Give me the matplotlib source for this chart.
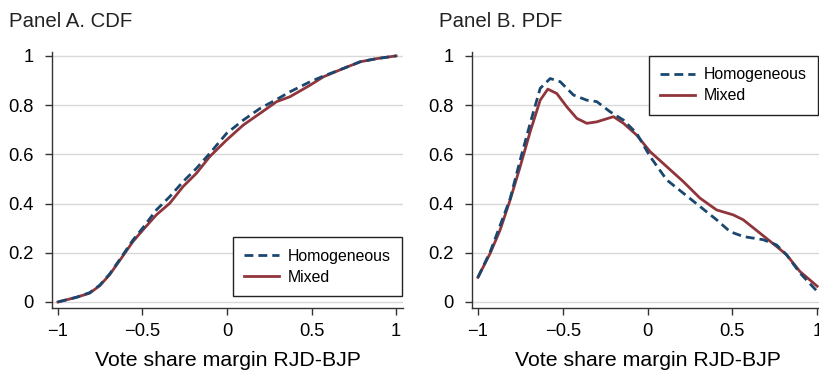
import numpy as np
import matplotlib.pyplot as plt

plt.rcParams['font.family'] = ['Liberation Sans', 'DejaVu Sans']

# Panel A: CDF of vote share margin
cdf_x_mixed = [-1.0, -0.891, -0.812, -0.753, -0.694, -0.625, -0.556, -0.497, -0.418,
               -0.339, -0.260, -0.181, -0.102, -0.003, 0.096, 0.194, 0.293, 0.372,
               0.491, 0.570, 0.688, 0.787, 0.886, 1.0]
cdf_y_mixed = [0.0, 0.019, 0.036, 0.066, 0.111, 0.178, 0.246, 0.293, 0.354,
               0.401, 0.469, 0.523, 0.591, 0.658, 0.719, 0.766, 0.814, 0.834,
               0.881, 0.915, 0.949, 0.976, 0.989, 1.0]
cdf_x_homog = [-1.0, -0.891, -0.812, -0.753, -0.694, -0.625, -0.556, -0.497, -0.418,
               -0.339, -0.260, -0.181, -0.102, -0.003, 0.096, 0.194, 0.293, 0.372,
               0.491, 0.570, 0.688, 0.787, 0.886, 1.0]
cdf_y_homog = [0.0, 0.019, 0.038, 0.068, 0.114, 0.182, 0.252, 0.302, 0.374,
               0.428, 0.489, 0.543, 0.604, 0.685, 0.739, 0.786, 0.823, 0.854,
               0.895, 0.918, 0.949, 0.976, 0.989, 1.0]

# Panel B: PDF (kernel density)
pdf_x_mixed = [-1.0, -0.927, -0.869, -0.810, -0.751, -0.692, -0.633, -0.588, -0.535,
               -0.476, -0.417, -0.358, -0.299, -0.201, -0.142, -0.064, 0.015, 0.113,
               0.211, 0.309, 0.407, 0.505, 0.564, 0.662, 0.760, 0.819, 0.898, 1.0]
pdf_y_mixed = [0.100, 0.199, 0.293, 0.415, 0.550, 0.692, 0.820, 0.865, 0.847,
               0.793, 0.746, 0.726, 0.732, 0.753, 0.726, 0.678, 0.611, 0.550,
               0.489, 0.422, 0.374, 0.354, 0.334, 0.280, 0.226, 0.192, 0.124, 0.064]
pdf_x_homog = [-1.0, -0.927, -0.810, -0.751, -0.692, -0.633, -0.574, -0.515, -0.437,
               -0.358, -0.299, -0.221, -0.142, -0.064, 0.015, 0.113, 0.211, 0.309,
               0.407, 0.486, 0.564, 0.682, 0.760, 0.819, 0.898, 1.0]
pdf_y_homog = [0.100, 0.205, 0.420, 0.577, 0.726, 0.868, 0.908, 0.895, 0.841,
               0.820, 0.814, 0.773, 0.739, 0.685, 0.591, 0.496, 0.442, 0.388,
               0.334, 0.286, 0.266, 0.253, 0.232, 0.192, 0.118, 0.043]

xticks = [-1, -0.5, 0, 0.5, 1]
xtick_labels = ['\u22121', '\u22120.5', '0', '0.5', '1']
yticks = [0, 0.2, 0.4, 0.6, 0.8, 1]
ytick_labels = ['0', '0.2', '0.4', '0.6', '0.8', '1']

blue = '#1a476f'
red = '#90353b'

fig = plt.figure(figsize=(8.19, 3.70), dpi=100)
ax1 = fig.add_axes([0.0635, 0.1676, 0.4285, 0.692])
ax2 = fig.add_axes([0.5763, 0.1676, 0.4298, 0.692])

panels = [
    (ax1, cdf_x_homog, cdf_y_homog, cdf_x_mixed, cdf_y_mixed),
    (ax2, pdf_x_homog, pdf_y_homog, pdf_x_mixed, pdf_y_mixed),
]

for ax, xh, yh, xm, ym in panels:
    ax.plot(xh, yh, color=blue, lw=2, ls=(0, (3.2, 1.8)), label='Homogeneous', zorder=3)
    ax.plot(xm, ym, color=red, lw=2, label='Mixed', zorder=2)
    ax.set_xlim(-1.035, 1.04)
    ax.set_ylim(-0.0244, 1.016)
    ax.set_xticks(xticks)
    ax.set_xticklabels(xtick_labels)
    ax.set_yticks(yticks)
    ax.set_yticklabels(ytick_labels)
    ax.grid(axis='y', color='#d9d9d9', lw=1)
    ax.set_axisbelow(True)
    for s in ['top', 'right']:
        ax.spines[s].set_visible(False)
    for s in ['left', 'bottom']:
        ax.spines[s].set_color('#333333')
        ax.spines[s].set_linewidth(1)
    ax.tick_params(direction='out', length=5, width=1, color='#333333',
                   labelsize=13.2)
    ax.tick_params(axis='y', pad=8)
    ax.tick_params(axis='x', pad=6)
    ax.set_xlabel('Vote share margin RJD-BJP', fontsize=15.3, labelpad=8)

fig.text(9 / 819, 1 - 27.3 / 370, 'Panel A. CDF', fontsize=14.7,
         ha='left', va='baseline', color='#222222')
fig.text(439 / 819, 1 - 27.3 / 370, 'Panel B. PDF', fontsize=14.7,
         ha='left', va='baseline', color='#222222')

leg_kw = dict(fontsize=11.4, handlelength=2.2, handletextpad=0.57, borderpad=0.7,
              labelspacing=0.4, borderaxespad=0, fancybox=False, framealpha=1)
leg1 = ax1.legend(loc='lower right', bbox_to_anchor=(0.997, 0.047), **leg_kw)
leg2 = ax2.legend(loc='upper left', bbox_to_anchor=(0.503, 0.984), **leg_kw)
for leg in (leg1, leg2):
    leg.get_frame().set_edgecolor('#222222')
    leg.get_frame().set_linewidth(1)

fig.savefig('out.png', dpi=100)
